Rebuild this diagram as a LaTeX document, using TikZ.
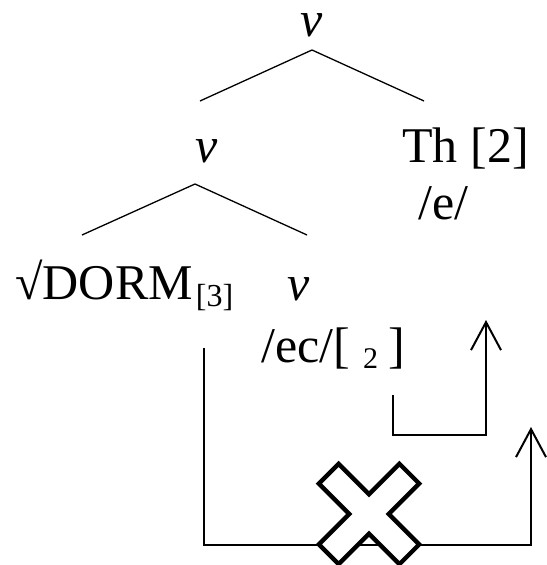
\documentclass[tikz,border=0pt]{standalone}
\usepackage{fontspec}
\setmainfont{Liberation Serif}
\usepackage{xcolor}
\usepackage{tikz}
\usetikzlibrary{arrows.meta}
\newcommand{\subtxt}[3][-3.5pt]{\raisebox{#1}{\fontsize{#2}{#2}\selectfont #3}}
\tikzset{
  lab/.style={font=\fontsize{25}{30}\selectfont,inner sep=0pt,anchor=base west},
  br/.style={line width=0.65pt},
  ar/.style={-{Straight Barb[length=14pt,width=15pt]},line width=1pt},
  xm/.style={draw,line width=2.2pt,fill=white}
}
\begin{document}
\begin{tikzpicture}[x=0.5pt,y=-0.5pt]
\useasboundingbox (0,0) rectangle (546,565);
\node[lab,anchor=base] (vtop) at (312,37) {\textit{v}};
\node[lab,anchor=base] (vmid) at (207,163) {\textit{v}};
\node[lab] (th) at (402,163) {Th [2]};
\node[lab] (the) at (418,220) {/e/};
\node[lab] (root) at (15,300) {√DORM\hspace{1.5pt}\subtxt{16}{[3]}};
\node[lab,anchor=base] (vlow) at (299,301) {\textit{v}};
\node[lab] (ec) at (261,362) {/ec/[\hspace{6.5pt}\subtxt[-3pt]{15}{2}\hspace{5pt}]};
\coordinate (a0) at (312,50); \coordinate (a1) at (200,101); \coordinate (a2) at (424,101);
\coordinate (b0) at (195,184); \coordinate (b1) at (82,235); \coordinate (b2) at (307,235);
\draw[br] (a1) -- (a0) -- (a2);
\draw[br] (b1) -- (b0) -- (b2);
\coordinate (p1) at (393,395); \coordinate (q2) at (486,435); \coordinate (p2) at (486,320);
\draw[ar] (p1) |- (q2) -- (p2);
\coordinate (r1) at (204,348); \coordinate (r2) at (531,545); \coordinate (r3) at (531,427);
\draw[ar] (r1) |- (r2) -- (r3);
\draw[xm,shift={(369,514)},rotate=45] (14,14) -- (14,57) -- (-14,57) -- (-14,14) -- (-57,14) -- (-57,-14)
  -- (-14,-14) -- (-14,-57) -- (14,-57) -- (14,-14) -- (57,-14) -- (57,14) -- cycle;
\end{tikzpicture}
\end{document}
